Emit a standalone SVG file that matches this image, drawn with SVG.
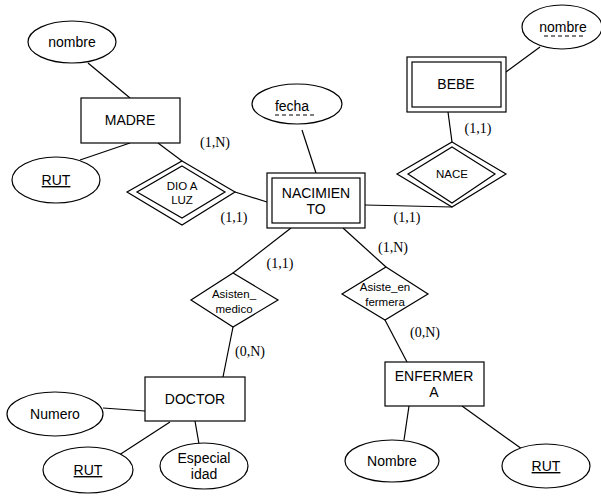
<svg xmlns="http://www.w3.org/2000/svg" width="601" height="498" viewBox="0 0 601 498">
<style>
.s{fill:#fff;stroke:#000;stroke-width:1.2}
.n{fill:none;stroke:#000;stroke-width:1.2}
.t{font-family:"Liberation Sans",Arial,sans-serif;font-size:14px;fill:#000;text-anchor:middle}
.ts{font-family:"Liberation Sans",Arial,sans-serif;font-size:11.5px;fill:#000;text-anchor:middle}
.c{font-family:"Liberation Serif","Times New Roman",serif;font-size:14px;fill:#000;text-anchor:middle}
.l{stroke:#000;stroke-width:1.2}
.d{stroke:#000;stroke-width:1;stroke-dasharray:4,3}
</style>
<rect width="601" height="498" fill="#fff"/>
<g id="connectors">
<line class="l" x1="88" y1="63" x2="130" y2="98"/>
<line class="l" x1="130" y1="143" x2="80" y2="160"/>
<line class="l" x1="158" y1="143" x2="182" y2="161"/>
<line class="l" x1="235" y1="192" x2="267" y2="202"/>
<line class="l" x1="302" y1="130" x2="316" y2="173"/>
<line class="l" x1="506" y1="72" x2="540" y2="47"/>
<line class="l" x1="448" y1="112" x2="452" y2="142"/>
<line class="l" x1="365" y1="205" x2="452" y2="207"/>
<line class="l" x1="291" y1="228" x2="233" y2="273"/>
<line class="l" x1="343" y1="228" x2="386" y2="267"/>
<line class="l" x1="233" y1="327" x2="223" y2="377"/>
<line class="l" x1="385" y1="320" x2="407" y2="362"/>
<line class="l" x1="103" y1="408" x2="145" y2="411"/>
<line class="l" x1="170" y1="422" x2="113" y2="459"/>
<line class="l" x1="195" y1="421" x2="199" y2="444"/>
<line class="l" x1="409" y1="406" x2="404" y2="440"/>
<line class="l" x1="462" y1="406" x2="522" y2="449"/>
</g>
<g id="labels">
<text class="c" x="215" y="147">(1,N)</text>
<text class="c" x="234" y="222">(1,1)</text>
<text class="c" x="478" y="133">(1,1)</text>
<text class="c" x="407" y="222">(1,1)</text>
<text class="c" x="280" y="268">(1,1)</text>
<text class="c" x="393" y="252">(1,N)</text>
<text class="c" x="250" y="356">(0,N)</text>
<text class="c" x="425" y="337">(0,N)</text>
</g>
<g id="nombre_madre">
<ellipse class="s" cx="72" cy="42" rx="44" ry="21"/>
<text class="t" x="72" y="47">nombre</text>
</g>
<g id="madre">
<rect class="s" x="81" y="98" width="99" height="45"/>
<text class="t" x="130" y="125">MADRE</text>
</g>
<g id="rut_madre">
<ellipse class="s" cx="56" cy="180" rx="44" ry="23"/>
<text class="t" x="56" y="185" text-decoration="underline">RUT</text>
</g>
<g id="dio_a_luz">
<polygon class="s" points="182,161 235,192 182,225 127,192"/>
<polygon class="n" points="182,166 225,192 182,218 137,192"/>
<text class="ts" x="182" y="190">DIO A</text>
<text class="ts" x="182" y="204">LUZ</text>
</g>
<g id="fecha">
<ellipse class="s" cx="297" cy="104" rx="45" ry="20"/>
<text class="t" x="292" y="111">fecha</text>
<line class="d" x1="275" y1="115" x2="315" y2="115"/>
</g>
<g id="nacimiento">
<rect class="s" x="267" y="173" width="98" height="55"/>
<rect class="n" x="272" y="178" width="88" height="45"/>
<text class="t" x="316" y="198">NACIMIEN</text>
<text class="t" x="316" y="214">TO</text>
</g>
<g id="bebe">
<rect class="s" x="407" y="57" width="99" height="55"/>
<rect class="n" x="412" y="62" width="89" height="45"/>
<text class="t" x="456" y="89">BEBE</text>
</g>
<g id="nombre_bebe">
<ellipse class="s" cx="562" cy="27" rx="40" ry="22"/>
<text class="t" x="563" y="32">nombre</text>
<line class="d" x1="544" y1="36" x2="583" y2="36"/>
</g>
<g id="nace">
<polygon class="s" points="452,142 506,174 452,207 397,174"/>
<polygon class="n" points="452,147 495,174 452,203 408,174"/>
<text class="ts" x="452" y="178">NACE</text>
</g>
<g id="asisten_medico">
<polygon class="s" points="233,273 278,300 233,327 191,300"/>
<text class="ts" x="234" y="298">Asisten_</text>
<text class="ts" x="234" y="313">medico</text>
</g>
<g id="asiste_enfermera">
<polygon class="s" points="386,267 428,294 385,320 342,294"/>
<text class="ts" x="385" y="291">Asiste_en</text>
<text class="ts" x="385" y="306">fermera</text>
</g>
<g id="doctor">
<rect class="s" x="145" y="377" width="100" height="44"/>
<text class="t" x="195" y="404">DOCTOR</text>
</g>
<g id="numero">
<ellipse class="s" cx="55" cy="414" rx="48" ry="22"/>
<text class="t" x="55" y="419">Numero</text>
</g>
<g id="rut_doctor">
<ellipse class="s" cx="88" cy="470" rx="45" ry="23"/>
<text class="t" x="88" y="475" text-decoration="underline">RUT</text>
</g>
<g id="especialidad">
<ellipse class="s" cx="204" cy="466" rx="44" ry="23"/>
<text class="t" x="204" y="463">Especial</text>
<text class="t" x="204" y="479">idad</text>
</g>
<g id="enfermera">
<rect class="s" x="385" y="362" width="99" height="44"/>
<text class="t" x="434" y="381">ENFERMER</text>
<text class="t" x="434" y="397">A</text>
</g>
<g id="nombre_enf">
<ellipse class="s" cx="392" cy="461" rx="47" ry="21"/>
<text class="t" x="392" y="466">Nombre</text>
</g>
<g id="rut_enf">
<ellipse class="s" cx="546" cy="466" rx="44" ry="22"/>
<text class="t" x="546" y="471" text-decoration="underline">RUT</text>
</g>
</svg>
